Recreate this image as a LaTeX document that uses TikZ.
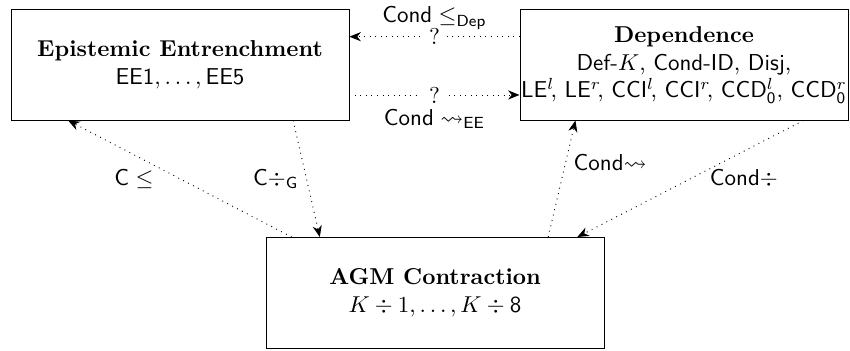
\documentclass[tikz,border=0pt]{standalone}
\usepackage{amsmath,amssymb}
\usepackage{tikz}
\usetikzlibrary{arrows.meta,calc}

\newcommand{\supx}[1]{$^{#1}$\kern-1.6pt}

\begin{document}
\begin{tikzpicture}[x=0.435pt,y=0.435pt]
\tikzset{box/.style={draw=black,align=center,inner sep=0pt},
         link/.style={black,dotted,->,>={Stealth[length=5pt,width=4pt,inset=1.6pt]}},
         qmark/.style={fill=white,inner xsep=3.3pt,inner ysep=0.5pt}}
\useasboundingbox (0,0) rectangle (850,351);

    % the three frameworks
    \node[box,minimum width=147pt,minimum height=47.9pt] (ee) at (180,286)
        {\textbf{Epistemic Entrenchment}\\ $\mathsf{EE1},\ldots,\mathsf{EE5}$};
    \node[box,minimum width=142.7pt,minimum height=47.9pt] (dep) at (684,286)
        {\textbf{Dependence}\\ \textsf{Def-}$K$, \textsf{Cond-ID}, \textsf{Disj},\\
         \textsf{LE}\supx{l}, \textsf{LE}\supx{r}, \textsf{CCI}\supx{l}, \textsf{CCI}\supx{r},
         \textsf{CCD}$^l_{\mathsf{0}}$, \textsf{CCD}$^r_{\mathsf{0}}$};
    \node[box,minimum width=147pt,minimum height=48.3pt] (agm) at (435,58)
        {\textbf{AGM Contraction}\\ $K\div1,\ldots,K\div\mathsf{8}$};

    % between EE and Dependence
    \draw[link] ($(dep.north west)!0.245!(dep.south west)$) -- node[qmark]{?}
        node[above=1pt,inner ysep=2pt]{$\mathsf{Cond}\leq_{\mathsf{Dep}}$}
        ($(ee.north east)!0.245!(ee.south east)$);
    \draw[link] ($(ee.north east)!0.77!(ee.south east)$) -- node[qmark]{?}
        node[below=5pt,inner ysep=1pt]{$\mathsf{Cond}\rightsquigarrow_{\mathsf{EE}}$}
        ($(dep.north west)!0.77!(dep.south west)$);

    % to and from AGM
    \draw[link] ($(agm.north west)!0.077!(agm.north east)$) --
        node[midway,left=8pt]{$\mathsf{C}\leq$}
        ($(ee.south west)!0.17!(ee.south east)$);
    \draw[link] ($(ee.south west)!0.834!(ee.south east)$) --
        node[midway,left]{$\mathsf{C}\div_{\mathsf{G}}$}
        ($(agm.north west)!0.16!(agm.north east)$);
    \draw[link] ($(agm.north west)!0.834!(agm.north east)$) --
        node[pos=0.64,right=0pt]{$\mathsf{Cond}{\rightsquigarrow}$}
        ($(dep.south west)!0.17!(dep.south east)$);
    \draw[link] ($(dep.south west)!0.863!(dep.south east)$) --
        node[midway,right=5pt]{$\mathsf{Cond}\div$}
        ($(agm.north west)!0.92!(agm.north east)$);

\end{tikzpicture}
\end{document}
